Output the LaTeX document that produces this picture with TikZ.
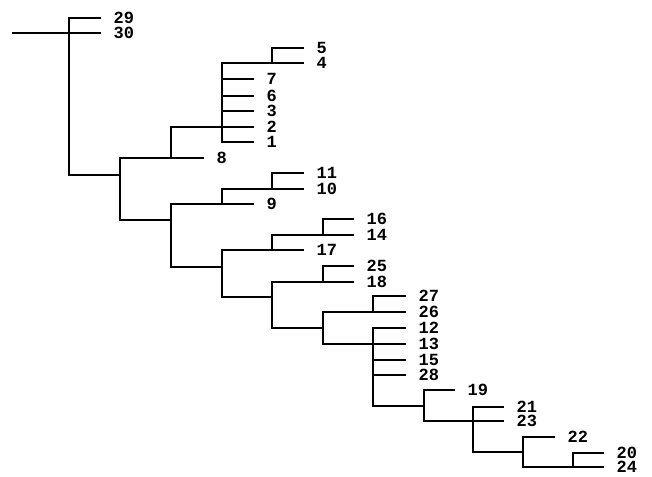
\documentclass[tikz,border=0pt]{standalone}
\usepackage{fontspec}
\newfontfamily\labfont{Liberation Mono}
\begin{document}
\begin{tikzpicture}[x=1pt,y=-1pt,
  branch/.style={line width=1.3pt, line cap=rect},
  lab/.style={anchor=west, inner sep=0pt, xshift=13pt, font=\labfont\bfseries\fontsize{17}{17}\selectfont}]
\useasboundingbox (0,0) rectangle (652,476);
% internal nodes: name / x / top / bottom
\foreach \n/\x/\a/\b in {R0/69/18/175, A/120/158/220, B/171/127/158, C/222/63/142,
  D/272/48/63, E/171/204/267, F/222/189/204, G/272/173/189, H/222/250/297,
  I/272/235/250, J/323/219/235, K/272/282/328, L/323/266/282, M/323/312/344,
  N/373/296/312, O/373/328/406, P/424/390/421, Q/473/407/452, R/523/437/467,
  S/573/453/467}{
  \coordinate (\n t) at (\x,\a);
  \coordinate (\n b) at (\x,\b);
  \draw[branch] (\n t) -- (\n b);
}
% root stem
\coordinate (rootin) at (13,33);
\draw[branch] (rootin) -- (R0t |- rootin);
% stems: parent / child / y
\foreach \p/\c/\y in {R0/A/175, A/B/158, B/C/127, C/D/63, A/E/220, E/F/204,
  F/G/189, E/H/267, H/I/250, I/J/235, H/K/297, K/L/282, K/M/328, M/N/312,
  M/O/344, O/P/406, P/Q/421, Q/R/452, R/S/467}{
  \draw[branch] (\p t |- 0,\y) -- (\c t |- 0,\y);
}
% leaves: parent / y / end x / label
\foreach \p/\y/\e/\t in {R0/18/100/29, R0/33/100/30, B/158/203/8,
  C/79/253/7, C/96/253/6, C/111/253/3, C/127/253/2, C/142/253/1,
  D/48/303/5, D/63/303/4, F/204/253/9, G/173/303/11, G/189/303/10,
  I/250/303/17, J/219/353/16, J/235/353/14, L/266/353/25, L/282/353/18,
  N/296/405/27, N/312/405/26, O/328/405/12, O/344/405/13, O/360/405/15,
  O/375/405/28, P/390/454/19, Q/407/503/21, Q/421/503/23, R/437/554/22,
  S/453/603/20, S/467/603/24}{
  \draw[branch] (\p t |- 0,\y) -- (\e,\y) node[lab] (leaf\t) {\t};
}
\end{tikzpicture}
\end{document}
